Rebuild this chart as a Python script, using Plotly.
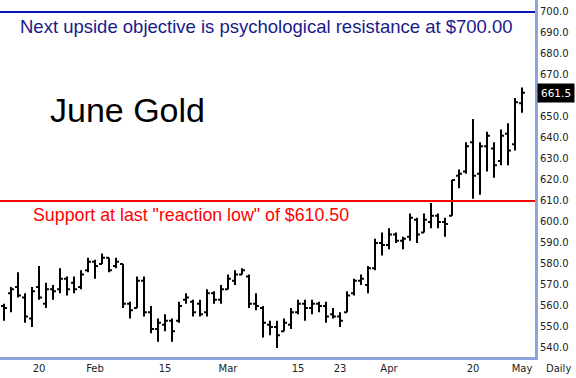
import plotly.graph_objects as go

# ---- data ----
bar_index = list(range(75))
opens = [560, 566, 569, 564, 554, 569, 561, 568, 568, 573, 571, 569, 577, 581, 580,
         583, 579, 580, 561, 559, 572, 557, 549, 551, 553, 553, 563, 562, 561, 557,
         566, 563, 568, 572, 575, 574, 561, 559, 551, 550, 548, 551, 557, 561, 559,
         561, 560, 556, 555, 557, 566, 572, 570, 578, 590, 589, 594, 591, 593, 601,
         595, 600, 603, 600, 603, 622, 624, 638, 623, 636, 635, 629, 642, 637, 656.5]
highs = [561, 569, 576, 566, 569, 579, 571, 570, 578, 574, 574, 577, 583, 582, 585,
         583, 583, 580, 562, 574, 574, 560, 554, 556, 554, 562, 566, 563, 563, 568,
         567, 570, 575, 577, 578, 575, 566, 560, 553, 553, 554, 559, 563, 563, 563,
         562, 562, 559, 557, 567, 573, 575, 579, 592, 595, 597, 595, 593, 604, 602,
         604, 609, 604, 602, 620, 625, 638, 649, 638, 643, 638, 644, 647, 659, 664]
lows = [553, 557, 564, 552, 550, 563, 559, 563, 566, 565, 566, 568, 576, 573, 580,
        576, 578, 559, 554, 559, 555, 547, 543, 548, 543, 552, 561, 555, 555, 555,
        561, 561, 568, 570, 575, 559, 558, 545, 546, 540, 548, 549, 556, 553, 556,
        557, 552, 554, 550, 557, 565, 570, 566, 577, 584, 587, 590, 587, 591, 590,
        595, 597, 597, 593, 603, 616, 623, 611, 613, 624, 621, 627, 627, 634, 652]
closes = [559, 568, 565, 555, 567, 564, 568, 567, 573, 568, 568, 575, 581, 579, 583,
          577, 581, 561, 558, 572, 557, 549, 552, 553, 548, 560, 564, 557, 556, 566,
          563, 568, 573, 575, 577, 561, 560, 552, 550, 546, 552, 557, 561, 559, 561,
          560, 555, 555, 553, 565, 572, 573, 578, 590, 589, 594, 591, 592, 602, 594,
          601, 603, 600, 599, 620, 623, 636, 622, 636, 641, 627, 641, 634, 657, 661.5]

x_tick_bars = [4, 12, 22, 31, 41, 47, 54, 66, 73]
x_tick_labels = ["20", "Feb", "15", "Mar", "15", "23", "Apr", "20", "May"]
y_tick_values = [700, 690, 680, 670, 650, 640, 630, 620, 610, 600, 590, 580, 570, 560, 550, 540]
y_tick_labels = [f"{v:.1f}" for v in y_tick_values]

resistance_level = 700.0
support_level = 610.0
last_price = closes[-1]

title_text = "June Gold"
resistance_text = "Next upside objective is psychological resistance at $700.00"
support_text = 'Support at last "reaction low" of $610.50'

# ---- style ----
AXIS_BLUE = "#8fa3dc"
LABEL_OFFSET = 1.0  # labels sit one bar to the right of their date

fig = go.Figure()
fig.add_trace(go.Ohlc(
    x=bar_index, open=opens, high=highs, low=lows, close=closes,
    increasing=dict(line=dict(color="black", width=2)),
    decreasing=dict(line=dict(color="black", width=2)),
    tickwidth=0.42, showlegend=False, hoverinfo="skip",
))

fig.add_shape(type="line", xref="paper", x0=0, x1=1, yref="y",
              y0=resistance_level, y1=resistance_level,
              line=dict(color="#0a14b4", width=2))
fig.add_shape(type="line", xref="paper", x0=0, x1=1, yref="y",
              y0=support_level, y1=support_level,
              line=dict(color="#ff0000", width=2))

font_main = "Liberation Sans, Arial, sans-serif"
font_axis = "DejaVu Sans, Verdana, sans-serif"

fig.add_annotation(text=resistance_text, xref="paper", x=18 / 535, xanchor="left",
                   yref="y", y=693.3, yanchor="middle", showarrow=False,
                   font=dict(family=font_main, size=18.5, color="#1a1a8c"))
fig.add_annotation(text=title_text, xref="paper", x=48 / 535, xanchor="left",
                   yref="y", y=653.5, yanchor="middle", showarrow=False,
                   font=dict(family=font_main, size=34, color="black"))
fig.add_annotation(text=support_text, xref="paper", x=31 / 535, xanchor="left",
                   yref="y", y=603.2, yanchor="middle", showarrow=False,
                   font=dict(family=font_main, size=17.8, color="#ff0000"))
fig.add_annotation(text=f"{last_price:.1f}", xref="paper", x=1, xanchor="left", xshift=2,
                   yref="y", y=last_price, yanchor="middle", showarrow=False,
                   bgcolor="black", borderpad=3,
                   font=dict(family=font_axis, size=10.5, color="white"))
fig.add_annotation(text="Daily", xref="paper", x=1, xanchor="left", xshift=9,
                   yref="paper", y=0, yanchor="top", yshift=-4, showarrow=False,
                   font=dict(family=font_axis, size=10, color="#222222"))

fig.update_layout(
    width=576, height=378,
    margin=dict(l=0, r=41, t=0, b=21),
    paper_bgcolor="white", plot_bgcolor="white",
    showlegend=False,
    xaxis=dict(
        range=[-0.571, 75.857], showgrid=False, zeroline=False,
        showline=True, linecolor=AXIS_BLUE, linewidth=3,
        tickmode="array", tickvals=[b + LABEL_OFFSET for b in x_tick_bars],
        ticktext=x_tick_labels, ticks="",
        tickfont=dict(family=font_axis, size=10, color="#222222"),
        rangeslider=dict(visible=False), fixedrange=True,
    ),
    yaxis=dict(
        side="right", range=[535.7, 705.7], showgrid=False, zeroline=False,
        showline=True, linecolor=AXIS_BLUE, linewidth=3,
        tickmode="array", tickvals=y_tick_values, ticktext=y_tick_labels,
        ticks="", tickfont=dict(family=font_axis, size=10, color="#222222"),
        fixedrange=True,
    ),
)

fig.write_html(
    "out.html",
    config={"displayModeBar": False, "staticPlot": True},
    post_script="document.body.style.margin='0';document.body.style.overflow='hidden';",
)
